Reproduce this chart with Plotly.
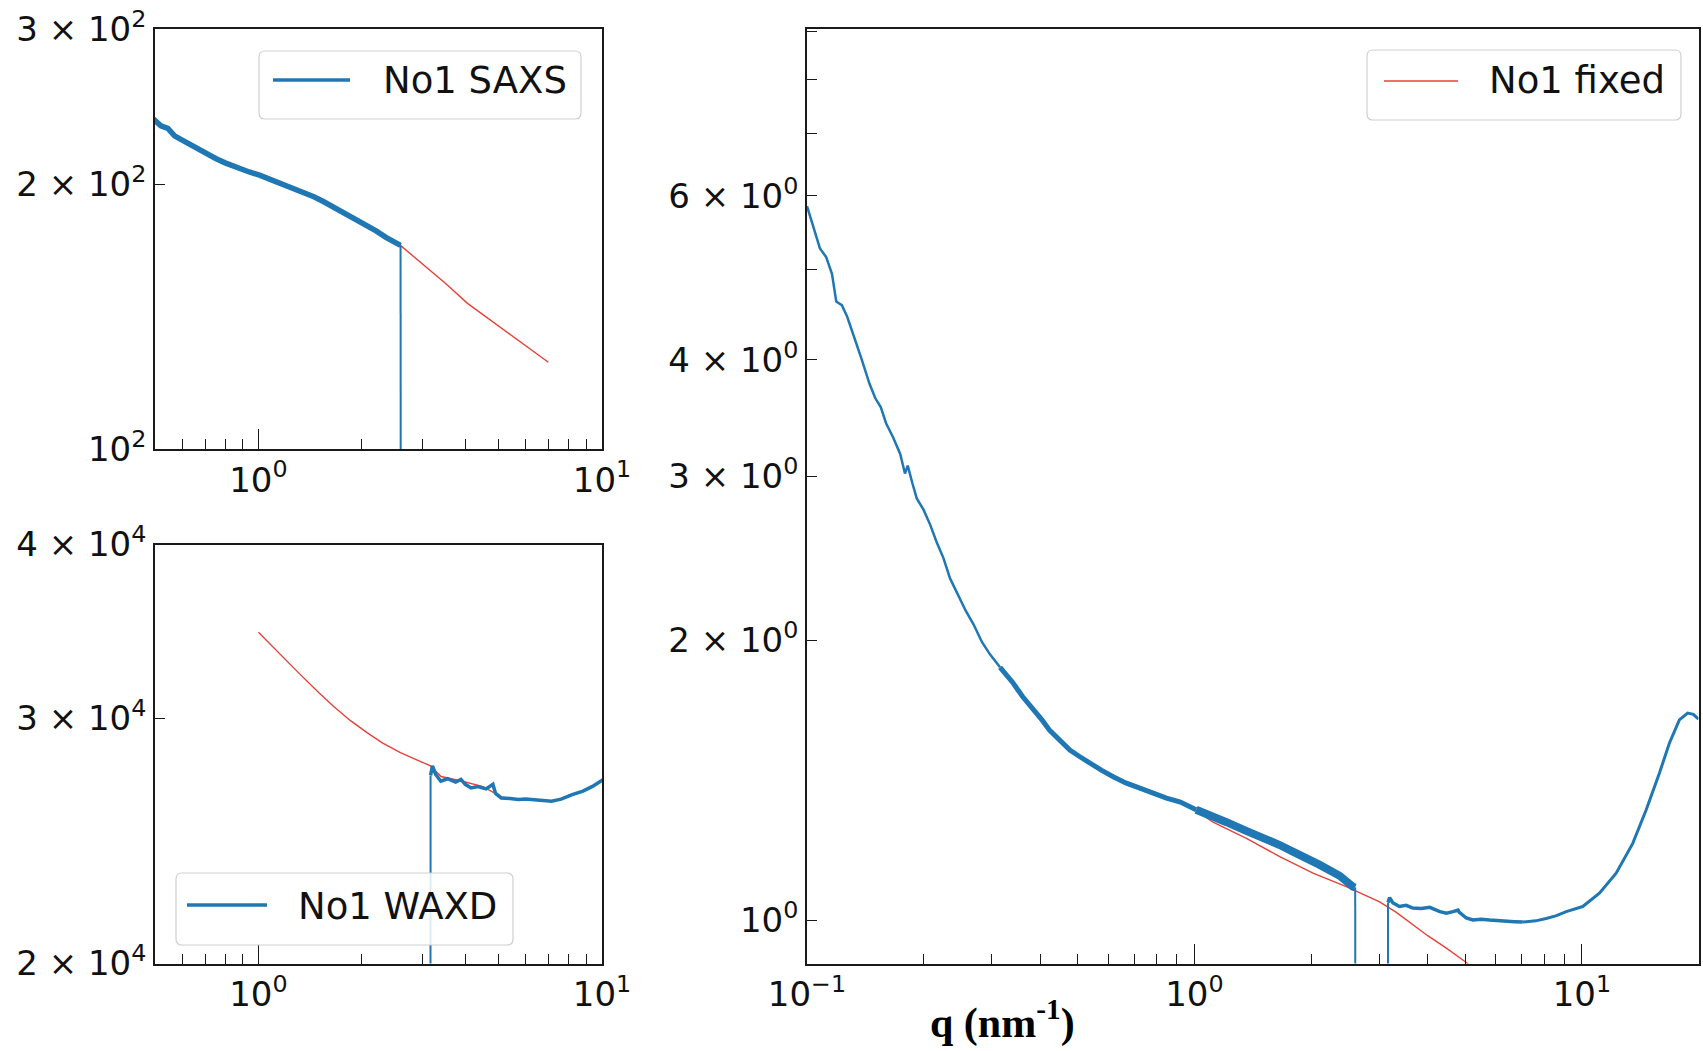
import numpy as np
import plotly.graph_objects as go

W, H = 1703, 1051

# ---------------- data ----------------
# Top-left panel: SAXS intensity (raw)
saxs_q = [0.49, 0.50, 0.52, 0.545, 0.57, 0.60, 0.63, 0.66, 0.70, 0.751, 0.80, 0.87, 0.94,
          1.007, 1.10, 1.20, 1.319, 1.45, 1.55, 1.652, 1.80, 1.95, 2.069, 2.20, 2.35, 2.48,
          2.592, 2.62]
saxs_I = [238.0, 236.5, 233.0, 231.5, 227.0, 224.4, 222.0, 219.5, 216.5, 213.9, 211.5, 208.5,
          206.5, 204.8, 202.0, 199.5, 196.9, 193.5, 191.0, 188.5, 185.0, 181.5, 179.6, 177.0,
          174.0, 172.0, 170.4, 1.0]
saxs_fit_q = [1.0, 1.32, 1.65, 2.07, 2.59, 3.0, 3.5, 4.06, 4.6, 5.21, 6.0, 6.98]
saxs_fit_I = [205.0, 197.0, 188.8, 179.8, 170.4, 162.4, 154.3, 146.4, 141.3, 136.4, 131.0, 125.5]

# Bottom-left panel: WAXD intensity (raw)
waxd_q = [3.14, 3.17, 3.21, 3.28, 3.395, 3.55, 3.75, 3.886, 4.0, 4.157, 4.35, 4.6, 4.813, 4.9,
          5.09, 5.4, 5.70, 6.0, 6.37, 6.75, 7.13, 7.6, 8.19, 8.8, 9.38, 10.1, 10.6]
waxd_I = [100, 27300, 27730, 27350, 27040, 27150, 27000, 27120, 26900, 26740, 26800, 26700,
          26900, 26500, 26300, 26280, 26230, 26250, 26230, 26200, 26160, 26250, 26450, 26600,
          26810, 27120, 27450]
waxd_fit_q = [1.0, 1.15, 1.32, 1.5, 1.65, 1.85, 2.07, 2.3, 2.59, 2.9, 3.17, 3.4, 3.9, 4.5, 5.1,
              5.7, 6.4, 7.0]
waxd_fit_I = [34600, 33400, 32280, 31300, 30620, 29900, 29300, 28800, 28350, 28000, 27730,
              27250, 27050, 26800, 26350, 26230, 26200, 26170]

# Right panel: merged, normalised curves
merged_saxs_q = [0.100, 0.104, 0.108, 0.112, 0.116, 0.119, 0.123, 0.127, 0.132, 0.138, 0.145,
                 0.150, 0.155, 0.160, 0.167, 0.174, 0.179, 0.182, 0.187, 0.192, 0.200, 0.208,
                 0.216, 0.225, 0.234, 0.245, 0.257, 0.269, 0.283, 0.297, 0.315, 0.340, 0.360,
                 0.383, 0.405, 0.423, 0.450, 0.477, 0.505, 0.537, 0.575, 0.617, 0.665, 0.723,
                 0.780, 0.847, 0.920, 1.010, 1.117, 1.210, 1.360, 1.470, 1.660, 1.800, 2.020,
                 2.100, 2.370, 2.420, 2.566, 2.600, 2.620]
merged_saxs_I = [5.85, 5.55, 5.27, 5.16, 4.95, 4.62, 4.58, 4.45, 4.25, 4.02, 3.77, 3.64, 3.56,
                 3.42, 3.30, 3.17, 3.02, 3.08, 2.95, 2.84, 2.76, 2.66, 2.55, 2.45, 2.33, 2.24,
                 2.15, 2.08, 1.99, 1.93, 1.87, 1.80, 1.74, 1.69, 1.64, 1.60, 1.56, 1.524, 1.50,
                 1.475, 1.45, 1.427, 1.405, 1.387, 1.37, 1.353, 1.340, 1.315, 1.295, 1.275,
                 1.248, 1.232, 1.205, 1.185, 1.160, 1.148, 1.117, 1.108, 1.087, 1.085, 0.005]
merged_waxd_q = [3.14, 3.16, 3.19, 3.25, 3.38, 3.52, 3.66, 3.85, 4.05, 4.30, 4.47, 4.65, 4.79,
                 4.83, 5.03, 5.23, 5.50, 5.78, 6.10, 6.40, 6.70, 7.04, 7.60, 8.09, 8.60, 9.11,
                 10.05, 11.1, 12.26, 13.53, 14.65, 15.85, 16.82, 17.85, 18.75, 19.40, 20.0]
merged_waxd_I = [0.004, 1.045, 1.058, 1.045, 1.035, 1.038, 1.031, 1.030, 1.033, 1.022, 1.018,
                 1.022, 1.026, 1.020, 1.006, 1.001, 1.003, 1.001, 0.999, 0.998, 0.997, 0.996,
                 0.999, 1.005, 1.012, 1.022, 1.035, 1.070, 1.124, 1.210, 1.314, 1.439, 1.550,
                 1.642, 1.670, 1.665, 1.645]
fixed_q = [1.00, 1.117, 1.362, 1.660, 2.023, 2.466, 3.006, 3.32, 4.00, 4.47, 5.00, 6.00, 7.00]
fixed_I = [1.315, 1.275, 1.225, 1.171, 1.124, 1.087, 1.047, 1.020, 0.963, 0.934, 0.903, 0.850, 0.800]

legend_names = ["No1 SAXS", "No1 WAXD", "No1 fixed"]

# ---------------- styling ----------------
BLUE = "#1f77b4"
RED = "#e8413a"
TICKFONT = "DejaVu Sans"
AX = "#1a1a1a"

fig = go.Figure()


def add_segments(q, I, cuts, widths, color, xa, ya):
    q = np.asarray(q, dtype=float)
    I = np.asarray(I, dtype=float)
    idx = [0] + [int(np.searchsorted(q, c)) for c in cuts] + [len(q) - 1]
    for k, w in enumerate(widths):
        a, b = idx[k], idx[k + 1]
        fig.add_trace(go.Scatter(x=q[a:b + 1], y=I[a:b + 1], mode="lines",
                                 line=dict(color=color, width=w),
                                 xaxis=xa, yaxis=ya, showlegend=False, hoverinfo="skip"))


# top-left
add_segments(saxs_fit_q, saxs_fit_I, [], [1.4], RED, "x", "y")
add_segments(saxs_q, saxs_I, [2.59], [5.5, 2], BLUE, "x", "y")
# bottom-left
add_segments(waxd_fit_q, waxd_fit_I, [], [1.4], RED, "x2", "y2")
add_segments(waxd_q, waxd_I, [3.17], [2, 3.5], BLUE, "x2", "y2")
# right
add_segments(fixed_q, fixed_I, [], [1.4], RED, "x3", "y3")
add_segments(merged_saxs_q, merged_saxs_I, [0.3, 1.0, 2.6], [2.5, 5, 8, 2], BLUE, "x3", "y3")
add_segments(merged_waxd_q, merged_waxd_I, [3.16, 7.0], [2, 3.5, 3], BLUE, "x3", "y3")


def base_axis(**kw):
    d = dict(type="log", showline=True, linecolor=AX, linewidth=1.6, mirror=True,
             ticks="inside", tickcolor=AX, tickwidth=1.4, showgrid=False, zeroline=False,
             automargin=False,
             tickfont=dict(family=TICKFONT, size=34, color="#111"))
    d.update(kw)
    return d


def minor(vals, ln=10):
    return dict(tickmode="array", tickvals=vals, ticks="inside", ticklen=ln,
                tickwidth=1.4, tickcolor=AX, showgrid=False)


def px_x(p):
    return p / W


def px_y(p):
    return 1 - p / H


xdom_left = [px_x(155), px_x(602)]
left_minor = [0.6, 0.7, 0.8, 0.9, 2, 3, 4, 5, 6, 7, 8, 9]

fig.update_layout(
    xaxis=base_axis(domain=xdom_left, anchor="y", range=[np.log10(0.5), 1.0],
                    tickvals=[1, 10], ticktext=["10<sup>0</sup>", "10<sup>1</sup>"],
                    ticklen=20, minor=minor(left_minor)),
    yaxis=base_axis(domain=[px_y(449), px_y(29.3)], anchor="x", range=[2, np.log10(300)],
                    tickvals=[100, 200, 300],
                    ticktext=["10<sup>2</sup>", "2 × 10<sup>2</sup>", "3 × 10<sup>2</sup>"],
                    ticklen=10),
    xaxis2=base_axis(domain=xdom_left, anchor="y2", range=[np.log10(0.5), 1.0],
                     tickvals=[1, 10], ticktext=["10<sup>0</sup>", "10<sup>1</sup>"],
                     ticklen=20, minor=minor(left_minor)),
    yaxis2=base_axis(domain=[px_y(963.5), px_y(544.5)], anchor="x2",
                     range=[np.log10(2e4), np.log10(4e4)],
                     tickvals=[2e4, 3e4, 4e4],
                     ticktext=["2 × 10<sup>4</sup>", "3 × 10<sup>4</sup>", "4 × 10<sup>4</sup>"],
                     ticklen=10),
    xaxis3=base_axis(domain=[px_x(807), px_x(1698.5)], anchor="y3", range=[-1, np.log10(20)],
                     tickvals=[0.1, 1, 10],
                     ticktext=["10<sup>−1</sup>", "10<sup>0</sup>", "10<sup>1</sup>"],
                     ticklen=20,
                     minor=minor([0.2, 0.3, 0.4, 0.5, 0.6, 0.7, 0.8, 0.9,
                                  2, 3, 4, 5, 6, 7, 8, 9])),
    yaxis3=base_axis(domain=[px_y(963.5), px_y(29.3)], anchor="x3",
                     range=[np.log10(0.899), np.log10(9.06)],
                     tickvals=[1, 2, 3, 4, 6],
                     ticktext=["10<sup>0</sup>", "2 × 10<sup>0</sup>", "3 × 10<sup>0</sup>",
                               "4 × 10<sup>0</sup>", "6 × 10<sup>0</sup>"],
                     ticklen=10, minor=minor([5, 7, 8, 9])),
    yaxis4=dict(type="log", overlaying="y3", anchor="x3", side="left", automargin=False,
                range=[np.log10(0.899), np.log10(9.06)], tickvals=[1], ticks="inside",
                ticklen=20, tickwidth=1.4, tickcolor=AX, showticklabels=False,
                showline=False, showgrid=False, zeroline=False),
    width=W, height=H, margin=dict(l=0, r=0, t=0, b=0, pad=0, autoexpand=False),
    paper_bgcolor="white", plot_bgcolor="white", showlegend=False,
)


# ---------------- legends (drawn) ----------------
def rrect(x0, y0, x1, y1, r=6):
    X = px_x
    Y = px_y
    pts = [
        f"M{X(x0 + r)},{Y(y0)}",
        f"L{X(x1 - r)},{Y(y0)}",
        f"Q{X(x1)},{Y(y0)} {X(x1)},{Y(y0 + r)}",
        f"L{X(x1)},{Y(y1 - r)}",
        f"Q{X(x1)},{Y(y1)} {X(x1 - r)},{Y(y1)}",
        f"L{X(x0 + r)},{Y(y1)}",
        f"Q{X(x0)},{Y(y1)} {X(x0)},{Y(y1 - r)}",
        f"L{X(x0)},{Y(y0 + r)}",
        f"Q{X(x0)},{Y(y0)} {X(x0 + r)},{Y(y0)}",
    ]
    return " ".join(pts) + " Z"


legends = [
    # box, line x0-x1, line y, text x, text y, colour, width, name
    ((259, 51, 581, 119), (273, 350), 80, 381, 81, BLUE, 3.5, legend_names[0]),
    ((176, 873, 513, 945), (187, 267), 905, 296, 906, BLUE, 3.5, legend_names[1]),
    ((1367, 50, 1681, 120), (1384, 1458), 81, 1487, 81, RED, 1.6, legend_names[2]),
]
shapes = []
annotations = []
for box, (lx0, lx1), ly, tx, ty, col, lw, name in legends:
    shapes.append(dict(type="path", xref="paper", yref="paper", path=rrect(*box),
                       line=dict(color="#d0d0d0", width=1.2),
                       fillcolor="rgba(255,255,255,0.85)", layer="above"))
    shapes.append(dict(type="line", xref="paper", yref="paper",
                       x0=px_x(lx0), x1=px_x(lx1), y0=px_y(ly), y1=px_y(ly),
                       line=dict(color=col, width=lw), layer="above"))
    annotations.append(dict(xref="paper", yref="paper", x=px_x(tx), y=px_y(ty),
                            xanchor="left", yanchor="middle", showarrow=False, text=name,
                            font=dict(family=TICKFONT, size=37, color="#111")))

annotations.append(dict(xref="paper", yref="paper", x=px_x(1003), y=px_y(1020),
                        xanchor="center", yanchor="middle", showarrow=False,
                        text="<b>q (nm<sup>-1</sup>)</b>",
                        font=dict(family="Liberation Serif, Times New Roman, serif",
                                  size=42, color="#000")))

fig.update_layout(shapes=shapes, annotations=annotations)

fig.write_html("out.html")
